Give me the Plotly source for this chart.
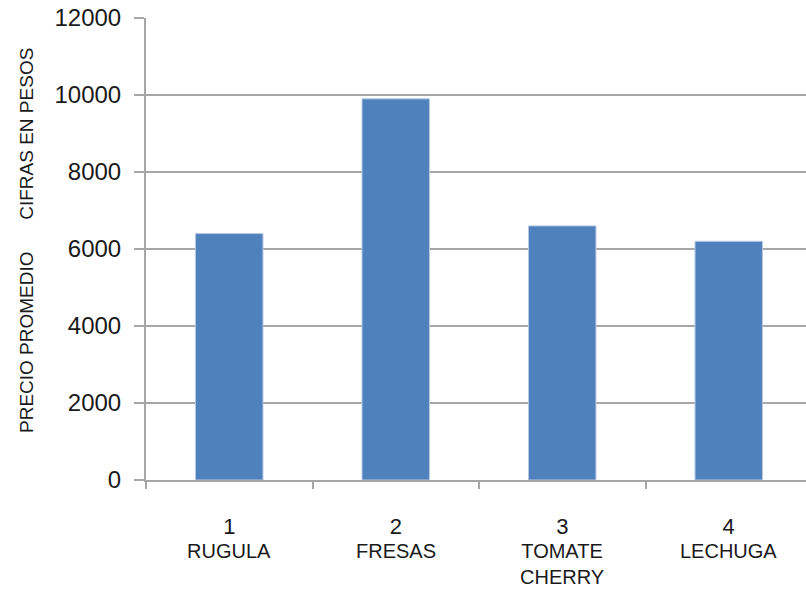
import plotly.graph_objects as go

# Average price per product (pesos)
categories = ["1", "2", "3", "4"]
products = ["RUGULA", "FRESAS", "TOMATE<br>CHERRY", "LECHUGA"]
prices = [6400, 9900, 6600, 6200]
y_ticks = [0, 2000, 4000, 6000, 8000, 10000, 12000]

BAR_BLUE = "#4F81BD"
GRID = "#A6A6A6"
TEXT = "#1A1A1A"
SANS = "Liberation Sans, Arial, sans-serif"

fig = go.Figure(
    go.Bar(
        x=categories,
        y=prices,
        width=0.405,
        marker=dict(color=BAR_BLUE, line=dict(color="#B4C8E2", width=1)),
    )
)

# Product names under the numbered categories (x given as category index)
for idx, name in enumerate(products):
    fig.add_annotation(
        x=idx, xref="x", y=0, yref="paper",
        text=name, showarrow=False,
        xanchor="center", yanchor="top", yshift=-58,
        font=dict(family=SANS, size=20, color=TEXT),
    )

# Vertical axis title
fig.add_annotation(
    x=0, xref="paper", y=0.5, yref="paper",
    xshift=-120, yshift=8,
    text="PRECIO PROMEDIO\u00a0\u00a0\u00a0\u00a0\u00a0\u00a0CIFRAS EN PESOS",
    textangle=-90, showarrow=False,
    xanchor="center", yanchor="middle",
    font=dict(family=SANS, size=19, color=TEXT),
)

fig.update_layout(
    width=806, height=594,
    margin=dict(l=146, r=0, t=18, b=114),
    paper_bgcolor="white", plot_bgcolor="white",
    showlegend=False,
    bargap=0.595,
    xaxis=dict(
        type="category",
        range=[-0.5, 3.464],
        showgrid=False,
        showline=True, linecolor=GRID, linewidth=2,
        ticks="outside", tickson="boundaries", ticklen=7, tickwidth=2, tickcolor=GRID,
        tickfont=dict(family=SANS, size=22, color=TEXT),
        ticklabelstandoff=26,
        zeroline=False,
    ),
    yaxis=dict(
        range=[0, 12000],
        tickvals=y_ticks,
        ticktext=[str(v) for v in y_ticks],
        showgrid=True, gridcolor=GRID, gridwidth=2,
        showline=True, linecolor=GRID, linewidth=2,
        ticks="outside", ticklen=10, tickwidth=2, tickcolor=GRID,
        tickfont=dict(family=SANS, size=24, color=TEXT),
        ticklabelstandoff=8,
        zeroline=False,
    ),
)

fig.write_html("out.html")
